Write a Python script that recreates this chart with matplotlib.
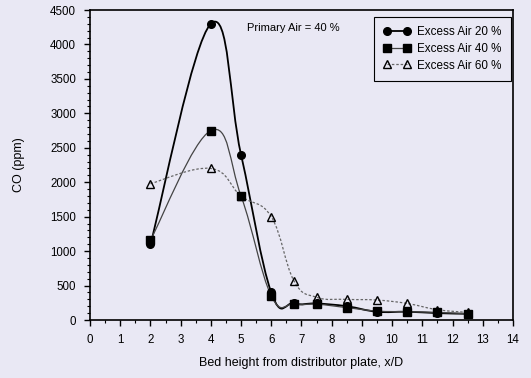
import numpy as np
import matplotlib.pyplot as plt
from matplotlib.path import Path
from matplotlib.patches import PathPatch
from matplotlib.ticker import MultipleLocator

plt.rcParams['font.family'] = ['Liberation Sans', 'DejaVu Sans']

height = [2, 4, 5, 6, 6.75, 7.5, 8.5, 9.5, 10.5, 11.5, 12.5]
co_ea20 = [1100, 4300, 2400, 400, 240, 240, 200, 120, 120, 100, 90]
co_ea40 = [1160, 2750, 1800, 350, 230, 230, 180, 130, 120, 110, 90]
co_ea60 = [1980, 2200, 1800, 1500, 570, 330, 300, 290, 240, 150, 110]

bg = '#e9e8f4'


def smooth_path(x, y, k=5.):
	# excel style smoothed line (cubic bezier through the points)
	p = np.column_stack([x, y]).astype(float)
	n = len(p)
	verts = [p[0]]
	codes = [Path.MOVETO]
	for i in range(n - 1):
		p0 = p[i - 1] if i > 0 else p[i]
		p3 = p[i + 2] if i + 2 < n else p[i + 1]
		c1 = p[i] + (p[i + 1] - p0) / k
		c2 = p[i + 1] - (p3 - p[i]) / k
		verts += [c1, c2, p[i + 1]]
		codes += [Path.CURVE4] * 3
	return Path(verts, codes)


fig = plt.figure(figsize=(5.31, 3.78), dpi=100, facecolor=bg)
ax = fig.add_axes([0.1695, 0.1534, 0.7965, 0.82])
ax.set_facecolor(bg)

series = [
	(co_ea20, 'o', '-', 'black', 1.3, 'Excess Air 20 %'),
	(co_ea40, 's', '-', '#444444', 0.9, 'Excess Air 40 %'),
	(co_ea60, '^', (0, (2, 1.5)), '#666666', 0.9, 'Excess Air 60 %'),
]
for vals, mk, ls, col, lw, lab in series:
	ax.add_patch(PathPatch(smooth_path(height, vals), fill=False, edgecolor=col, lw=lw, linestyle=ls))
	mfc = 'none' if mk == '^' else 'black'
	ax.plot(height, vals, linestyle='none', marker=mk, ms=5.5, mfc=mfc, mec='black', mew=1.0)
	ax.plot([], [], linestyle=ls, color=col, lw=lw, marker=mk, ms=5.5, mfc=mfc, mec='black', label=lab)

ax.set_xlim(0, 14)
ax.set_ylim(0, 4500)
ax.xaxis.set_major_locator(MultipleLocator(1))
ax.xaxis.set_minor_locator(MultipleLocator(0.5))
ax.yaxis.set_major_locator(MultipleLocator(500))
ax.yaxis.set_minor_locator(MultipleLocator(100))
ax.tick_params(which='major', direction='out', length=4, width=1, labelsize=8.3, pad=6)
ax.tick_params(which='minor', direction='out', length=2, width=0.8)
for s in ax.spines.values():
	s.set_linewidth(1.2)

ax.set_xlabel('Bed height from distributor plate, x/D', fontsize=9, labelpad=8)
ax.set_ylabel('CO (ppm)', fontsize=9, labelpad=18)
ax.text(5.2, 4240, 'Primary Air = 40 %', fontsize=8, va='center')

leg = ax.legend(loc='upper right', bbox_to_anchor=(0.995, 0.978), borderaxespad=0, numpoints=2,
	fontsize=8.4, frameon=True, fancybox=False, edgecolor='black', facecolor=bg, framealpha=1,
	handlelength=2.3, handletextpad=0.6, labelspacing=0.4, borderpad=0.8)
leg.get_frame().set_linewidth(0.8)

fig.savefig('out.png', dpi=100, facecolor=bg)
